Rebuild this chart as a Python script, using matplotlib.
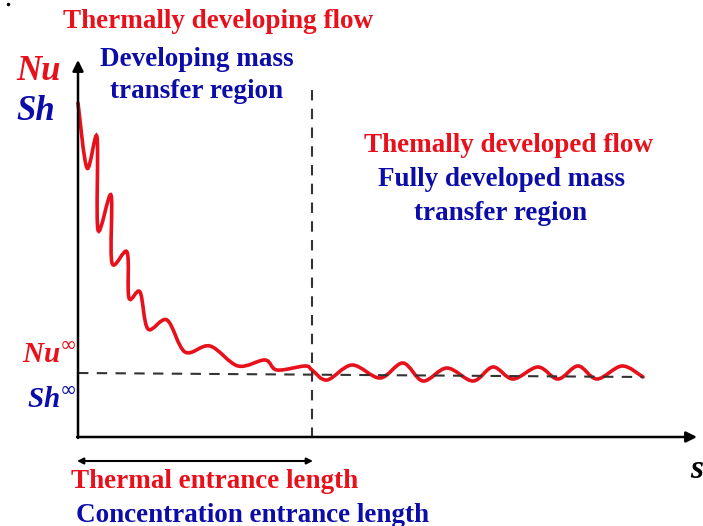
import numpy as np
import matplotlib.pyplot as plt
from matplotlib.path import Path
from matplotlib.patches import PathPatch

# curve (pixel coordinates, y downward)
curva_x = [78, 87, 97, 98, 111, 112, 127, 129, 140, 148, 167, 185, 210, 238, 265, 277, 305,
           312, 327, 352, 380, 403, 423, 447, 473, 493, 513, 538, 558, 578, 597, 622, 643]
curva_y = [103, 168, 137, 230, 195, 263, 252, 298, 292, 329, 320, 352, 346, 366, 360, 370, 366,
           370, 380, 365, 378, 363, 381, 368, 381, 367, 379, 367, 379, 366, 379, 366, 377]

ROJO = '#e8101a'
AZUL = '#0c0ca8'
serif = ['Liberation Serif', 'DejaVu Serif']

fig = plt.figure(figsize=(7.03, 5.26), dpi=100)
ax = fig.add_axes([0, 0, 1, 1])
ax.set_xlim(0, 703)
ax.set_ylim(526, 0)
ax.axis('off')

# ejes con flechas
ax.annotate('', xy=(78, 60), xytext=(78, 438),
            arrowprops=dict(arrowstyle='-|>', color='black', lw=1.8, mutation_scale=16, shrinkA=0, shrinkB=0))
ax.annotate('', xy=(697, 437), xytext=(77, 437),
            arrowprops=dict(arrowstyle='-|>', color='black', lw=1.8, mutation_scale=16, shrinkA=0, shrinkB=0))
ax.annotate('', xy=(313, 461), xytext=(77, 461),
            arrowprops=dict(arrowstyle='<|-|>', color='black', lw=1.5, mutation_scale=9, shrinkA=0, shrinkB=0))

# lineas discontinuas
ax.plot([312, 312], [90, 437], ls='--', color='#333333', lw=1.5, dashes=(5, 4))
ax.plot([78, 643], [373, 377], ls='--', color='#333333', lw=1.5, dashes=(5, 4))

# curva suave (Catmull-Rom -> Bezier) con Path de matplotlib
pts = np.column_stack([curva_x, curva_y]).astype(float)
verts = [pts[0]]
codes = [Path.MOVETO]
n = len(pts)
for i in range(n - 1):
    p0 = pts[max(i - 1, 0)]
    p1 = pts[i]
    p2 = pts[i + 1]
    p3 = pts[min(i + 2, n - 1)]
    c1 = p1 + (p2 - p0) / 6
    c2 = p2 - (p3 - p1) / 6
    verts += [c1, c2, p2]
    codes += [Path.CURVE4] * 3
ax.add_patch(PathPatch(Path(verts, codes), fill=False, edgecolor=ROJO, lw=2.6, capstyle='round'))

# textos
def txt(x, y, s, c, size=19.5, style='normal', ha='center'):
    ax.text(x, y + 3, s, color=c, fontsize=size, fontweight='bold', fontstyle=style,
            family=serif, ha=ha, va='center')

txt(218, 19, 'Thermally developing flow', ROJO)
txt(197, 56, 'Developing mass', AZUL)
txt(197, 88, 'transfer region', AZUL)
txt(509, 142, 'Themally developed flow', ROJO)
txt(501, 177, 'Fully developed mass', AZUL)
txt(501, 210, 'transfer region', AZUL)
txt(215, 478, 'Thermal entrance length', ROJO)
txt(253, 512, 'Concentration entrance length', AZUL)

txt(61, 68, 'Nu', ROJO, size=25, style='italic', ha='right')
txt(55, 108, 'Sh', AZUL, size=25, style='italic', ha='right')
txt(77, 352, r'Nu$^{\infty}$', ROJO, size=21, style='italic', ha='right')
txt(77, 397, r'Sh$^{\infty}$', AZUL, size=21, style='italic', ha='right')
txt(703, 466, 's', 'black', size=24, style='italic', ha='right')
ax.plot([8], [4], marker='.', color='black', ms=3)

fig.savefig('out.png', dpi=100)
